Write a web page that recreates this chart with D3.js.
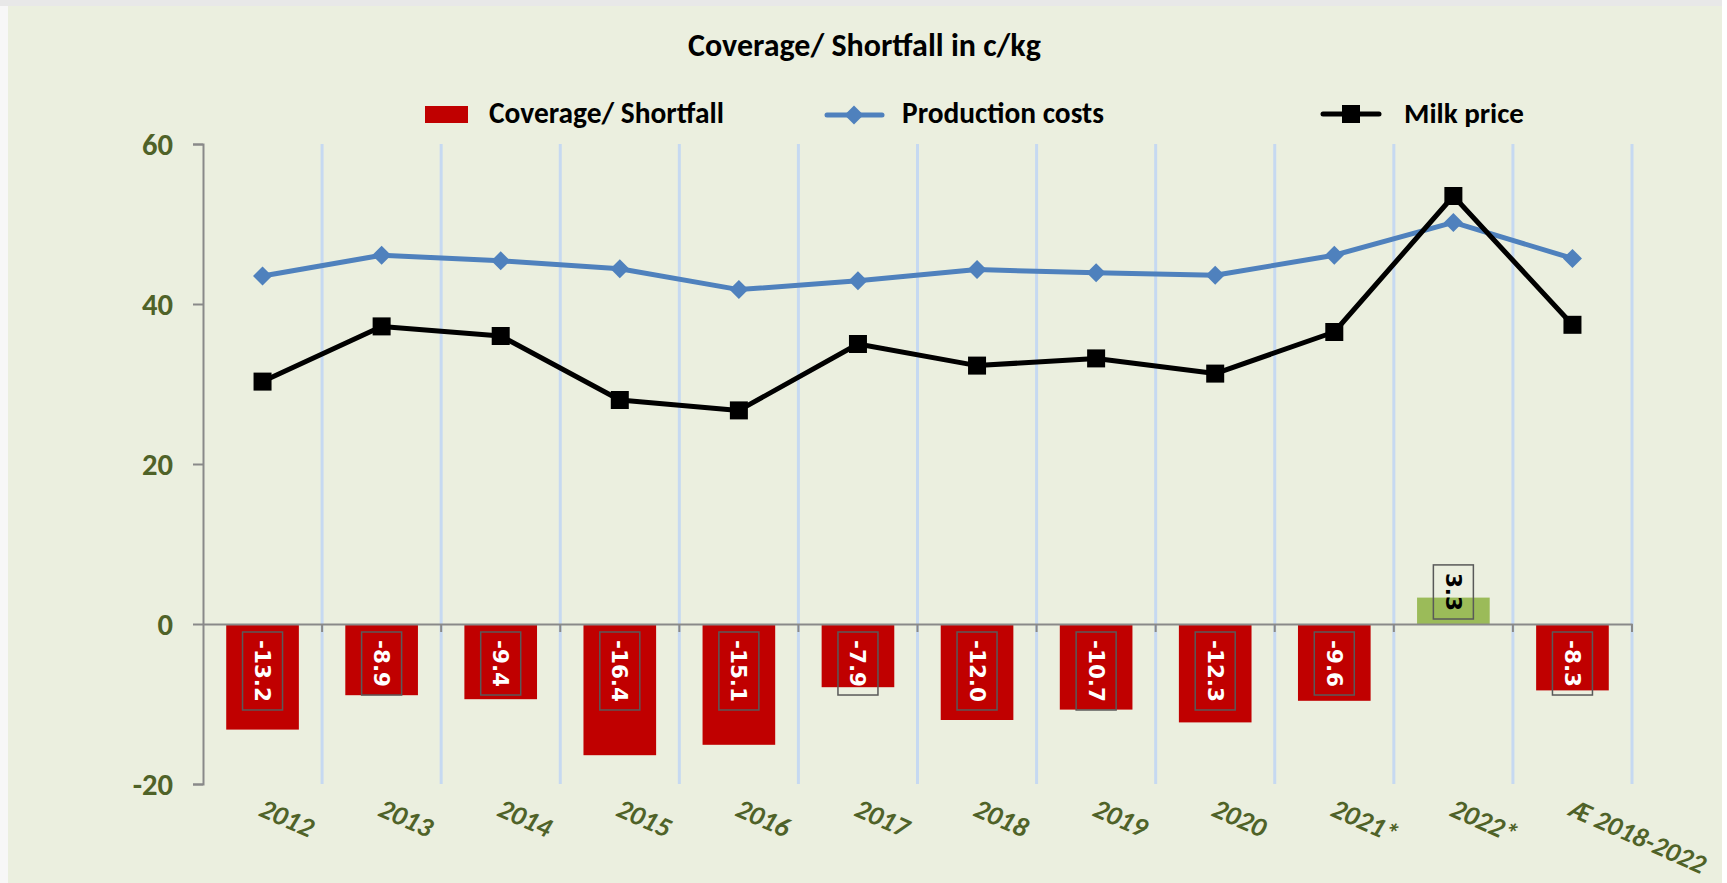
<!DOCTYPE html>
<html>
<head>
<meta charset="utf-8">
<script src="https://cdn.jsdelivr.net/npm/d3@7"></script>
<style>
  html, body { margin: 0; padding: 0; background: #ffffff; overflow: hidden; }
  svg { display: block; }
</style>
</head>
<body>
<svg id="chart" width="1727" height="883"></svg>
<script>
// ---------- data ----------
const categories = ["2012", "2013", "2014", "2015", "2016", "2017", "2018", "2019", "2020", "2021*", "2022*", "Æ 2018-2022"];
const coverage = [-13.2, -8.9, -9.4, -16.4, -15.1, -7.9, -12.0, -10.7, -12.3, -9.6, 3.3, -8.3];
const productionCosts = [43.5, 46.1, 45.4, 44.4, 41.8, 42.9, 44.3, 43.9, 43.6, 46.1, 50.2, 45.7];
const milkPrice = [30.3, 37.2, 36.0, 28.0, 26.7, 35.0, 32.3, 33.2, 31.3, 36.5, 53.5, 37.4];
const yTicks = [-20, 0, 20, 40, 60];
const seriesNames = ["Coverage/ Shortfall", "Production costs", "Milk price"];
const titleText = "Coverage/ Shortfall in c/kg";

// ---------- layout ----------
const W = 1727, H = 883;
const plot = { left: 203, right: 1632, top: 144, bottom: 784 };
const calibri = "Carlito, 'Liberation Sans Narrow', Lato, 'Open Sans', sans-serif";
const verdana = "'DejaVu Sans', Verdana, sans-serif";
const olive = "#4F6228";

const svg = d3.select("#chart");

// backgrounds
svg.append("rect").attr("x", 0).attr("y", 0).attr("width", W).attr("height", H).attr("fill", "#F7F7F7");
svg.append("rect").attr("x", 0).attr("y", 0).attr("width", W).attr("height", 6).attr("fill", "#E8E8E8");
svg.append("rect").attr("x", 1722).attr("y", 0).attr("width", 5).attr("height", H).attr("fill", "#FFFFFF");
svg.append("rect").attr("x", 8).attr("y", 6).attr("width", 1714).attr("height", H - 6).attr("fill", "#EBEFDF");

// scales
const x = d3.scaleBand().domain(categories).range([plot.left, plot.right]).paddingInner(0).paddingOuter(0);
const y = d3.scaleLinear().domain([-20, 60]).range([plot.bottom, plot.top]);
const bw = x.bandwidth();
const barW = bw * 0.61;
const cx = d => x(d) + bw / 2;

// helper: fit font size so text width hits target
function fitWidth(sel, target) {
  const n = sel.node();
  const w = n.getComputedTextLength();
  const fs = parseFloat(sel.attr("font-size"));
  if (w > 0) sel.attr("font-size", (fs * target / w).toFixed(2));
}

// vertical gridlines (category boundaries)
const bounds = categories.map((c, i) => plot.left + (i + 1) * bw);
svg.append("g").selectAll("line").data(bounds).join("line")
  .attr("x1", d => d).attr("x2", d => d)
  .attr("y1", plot.top).attr("y2", plot.bottom)
  .attr("stroke", "#C6D9F1").attr("stroke-width", 3);

// y axis
const yAxis = d3.axisLeft(y).tickValues(yTicks).tickFormat(d => String(d)).tickSize(10).tickPadding(20);
const gy = svg.append("g").attr("transform", `translate(${plot.left},0)`).call(yAxis);
gy.select(".domain").attr("stroke", "#898989").attr("stroke-width", 2);
gy.selectAll(".tick line").attr("stroke", "#898989").attr("stroke-width", 2);
const yLabels = gy.selectAll(".tick text").attr("fill", olive).attr("font-family", calibri)
  .attr("font-weight", "bold").attr("font-size", 28).attr("dy", "0.34em");
(function () {
  const ref = yLabels.filter(d => d === 60);
  const w = ref.node().getComputedTextLength();
  const fs = 28 * 31 / w;
  yLabels.attr("font-size", fs.toFixed(2));
})();

// bars
svg.append("g").selectAll("rect").data(categories).join("rect")
  .attr("x", d => cx(d) - barW / 2)
  .attr("width", barW)
  .attr("y", (d, i) => Math.min(y(coverage[i]), y(0)))
  .attr("height", (d, i) => Math.abs(y(coverage[i]) - y(0)))
  .attr("fill", (d, i) => coverage[i] >= 0 ? "#9BBB59" : "#C00000");

// x axis line at zero with downward ticks
const xAxis = d3.axisBottom(x).tickValues([]).tickSizeOuter(0);
const gx = svg.append("g").attr("transform", `translate(0,${y(0)})`).call(xAxis);
gx.select(".domain").attr("stroke", "#898989").attr("stroke-width", 2);
svg.append("g").selectAll("line").data(bounds).join("line")
  .attr("x1", d => d).attr("x2", d => d)
  .attr("y1", y(0)).attr("y2", y(0) + 8)
  .attr("stroke", "#898989").attr("stroke-width", 2);

// data labels (rotated, boxed)
const lblG = svg.append("g");
categories.forEach((c, i) => {
  const v = coverage[i];
  const g = lblG.append("g");
  const t = g.append("text")
    .text(v.toFixed(1))
    .attr("font-family", verdana).attr("font-weight", "bold").attr("font-size", 21.5)
    .attr("fill", v >= 0 ? "#000000" : "#FFFFFF")
    .attr("text-anchor", "start")
    .attr("dominant-baseline", "central");
  const len = t.node().getComputedTextLength();
  const pad = 8;
  const boxH = len + pad * 2;
  const boxW = 40;
  const top = v >= 0 ? y(0) - 5 - boxH : y(0) + 8;
  t.attr("transform", `translate(${cx(c)},${top + pad}) rotate(90)`);
  g.insert("rect", "text")
    .attr("x", cx(c) - boxW / 2).attr("y", top)
    .attr("width", boxW).attr("height", boxH)
    .attr("fill", "none").attr("stroke", "#595959").attr("stroke-width", 1.5);
});

// lines
const line = d3.line().x((d, i) => cx(categories[i])).y(d => y(d));
svg.append("path").datum(productionCosts).attr("d", line)
  .attr("fill", "none").attr("stroke", "#4F81BD").attr("stroke-width", 5).attr("stroke-linejoin", "round");
const diamond = d3.symbol().type(d3.symbolDiamond2).size(230);
svg.append("g").selectAll("path").data(productionCosts).join("path")
  .attr("transform", (d, i) => `translate(${cx(categories[i])},${y(d)})`)
  .attr("d", diamond).attr("fill", "#4F81BD");

svg.append("path").datum(milkPrice).attr("d", line)
  .attr("fill", "none").attr("stroke", "#000000").attr("stroke-width", 5).attr("stroke-linejoin", "round");
svg.append("g").selectAll("rect").data(milkPrice).join("rect")
  .attr("x", (d, i) => cx(categories[i]) - 9).attr("y", d => y(d) - 9)
  .attr("width", 18).attr("height", 18).attr("fill", "#000000");

// x labels (rotated)
svg.append("g").selectAll("text").data(categories).join("text")
  .text(d => d)
  .attr("transform", d => `translate(${cx(d) + 4},${plot.bottom + 11}) rotate(24)`)
  .attr("dy", "0.8em")
  .attr("font-family", calibri).attr("font-weight", "bold").attr("font-style", "italic")
  .attr("font-size", 24).attr("fill", olive)
  .each(function (d) { fitWidth(d3.select(this), Math.min(d.length * 14, 146)); });

// title
const title = svg.append("text").text(titleText)
  .attr("x", 688).attr("y", 56)
  .attr("font-family", calibri).attr("font-weight", "bold").attr("font-size", 26).attr("fill", "#000");
fitWidth(title, 353);

// legend
const lg = svg.append("g");
lg.append("rect").attr("x", 425).attr("y", 106).attr("width", 43).attr("height", 17).attr("fill", "#C00000");
lg.append("line").attr("x1", 827).attr("x2", 882).attr("y1", 115).attr("y2", 115)
  .attr("stroke", "#4F81BD").attr("stroke-width", 5).attr("stroke-linecap", "round");
lg.append("path").attr("transform", "translate(854,115)").attr("d", diamond).attr("fill", "#4F81BD");
lg.append("line").attr("x1", 1323).attr("x2", 1379).attr("y1", 114).attr("y2", 114)
  .attr("stroke", "#000").attr("stroke-width", 5).attr("stroke-linecap", "round");
lg.append("rect").attr("x", 1342).attr("y", 105).attr("width", 18).attr("height", 18).attr("fill", "#000");
const legendText = [
  { t: seriesNames[0], x: 489, w: 235 },
  { t: seriesNames[1], x: 902, w: 202 },
  { t: seriesNames[2], x: 1404, w: 120 }
];
legendText.forEach(d => {
  const t = lg.append("text").text(d.t).attr("x", d.x).attr("y", 123)
    .attr("font-family", calibri).attr("font-weight", "bold").attr("font-size", 24).attr("fill", "#000");
  fitWidth(t, d.w);
});
</script>
</body>
</html>
